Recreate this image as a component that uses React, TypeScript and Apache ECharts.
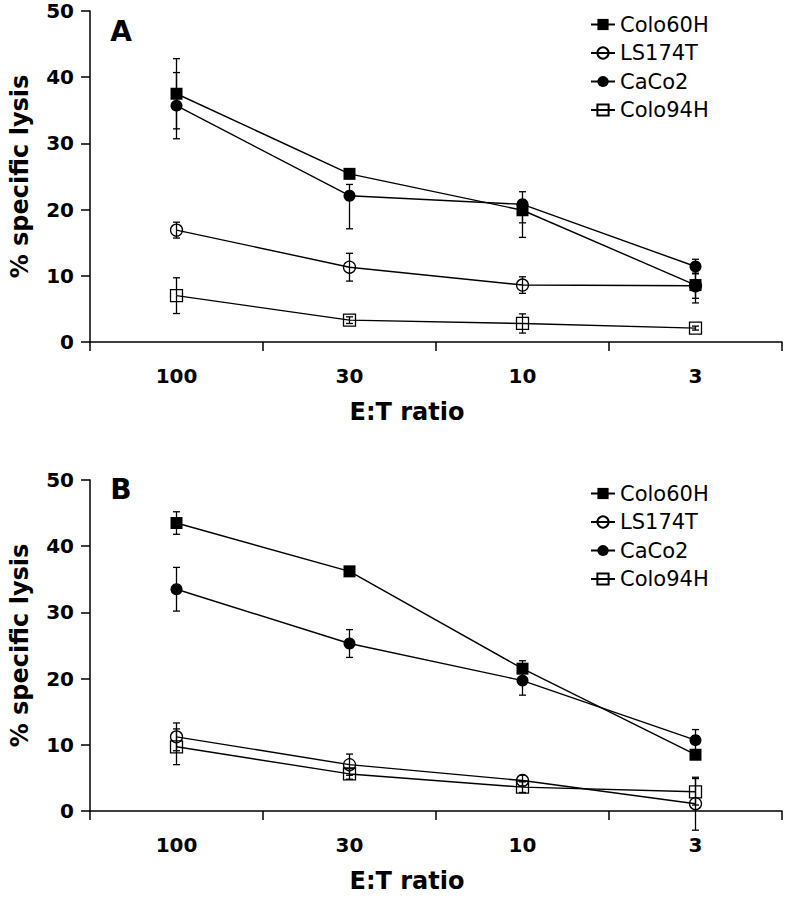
import React, { useEffect, useRef } from "react";
import * as echarts from "echarts";

// ---- data ----
const categories = ["100", "30", "10", "3"];
const seriesNames = ["Colo60H", "LS174T", "CaCo2", "Colo94H"];
const panelLabels = ["A", "B"];

// Panel A values
const aColo60H = [37.5, 25.4, 19.9, 8.6];
const aLS174T = [16.9, 11.3, 8.6, 8.5];
const aCaCo2 = [35.7, 22.1, 20.8, 11.4];
const aColo94H = [7.0, 3.3, 2.8, 2.1];
// Panel A error bars: [minus, plus]
const aColo60HErr = [[5.3, 5.3], [0, 0], [4.1, 0], [2.7, 2.7]];
const aLS174TErr = [[1.2, 1.2], [2.1, 2.1], [1.25, 1.25], [1.9, 1.9]];
const aCaCo2Err = [[5.0, 5.0], [5.0, 1.7], [2.8, 1.9], [1.1, 1.1]];
const aColo94HErr = [[2.7, 2.7], [0.5, 0.5], [1.45, 1.45], [0.3, 0.3]];

// Panel B values
const bColo60H = [43.5, 36.2, 21.5, 8.5];
const bLS174T = [11.2, 7.0, 4.6, 1.1];
const bCaCo2 = [33.5, 25.3, 19.7, 10.7];
const bColo94H = [9.7, 5.6, 3.6, 2.9];
// Panel B error bars: [minus, plus]
const bColo60HErr = [[1.7, 1.7], [0.7, 0.7], [1.2, 1.2], [0.4, 0.4]];
const bLS174TErr = [[2.1, 2.1], [1.6, 1.6], [0.8, 0.8], [4.0, 4.0]];
const bCaCo2Err = [[3.3, 3.3], [2.1, 2.1], [2.2, 2.2], [1.6, 1.6]];
const bColo94HErr = [[2.7, 2.7], [0.8, 0.8], [0.8, 0.8], [2.0, 2.0]];

const yTicks = { min: 0, max: 50, interval: 10 };

const panels = [
  {
    values: [aColo60H, aLS174T, aCaCo2, aColo94H],
    errs: [aColo60HErr, aLS174TErr, aCaCo2Err, aColo94HErr],
  },
  {
    values: [bColo60H, bLS174T, bCaCo2, bColo94H],
    errs: [bColo60HErr, bLS174TErr, bCaCo2Err, bColo94HErr],
  },
];

// ---- styles ----
const FONT = "'DejaVu Sans', 'Liberation Sans', Arial, sans-serif";
const markerStyles = [
  { symbol: "rect", filled: true },
  { symbol: "circle", filled: false },
  { symbol: "circle", filled: true },
  { symbol: "rect", filled: false },
];
const gridTops = [11, 480];
const legendTops = [9, 478];

export default function App() {
  const ref = useRef<HTMLDivElement>(null);

  useEffect(() => {
    if (!ref.current) return;
    const chart = echarts.init(ref.current, null, { renderer: "svg" });

    const grids = gridTops.map((t) => ({ left: 90, top: t, width: 692, height: 331 }));
    const axisLineStyle = { color: "#000", width: 1.5 };

    const xAxes = gridTops.map((_, i) => ({
      type: "category",
      gridIndex: i,
      data: categories,
      boundaryGap: true,
      axisLine: { show: true, lineStyle: axisLineStyle },
      axisTick: { show: true, length: 9, inside: false, lineStyle: axisLineStyle },
      axisLabel: { margin: 24, color: "#000", fontFamily: FONT, fontWeight: "bold", fontSize: 20 },
      name: "E:T ratio",
      nameLocation: "middle",
      nameGap: 58,
      nameTextStyle: {
        color: "#000",
        fontFamily: FONT,
        fontWeight: "bold",
        fontSize: 24,
        padding: [0, 58, 0, 0],
      },
      splitLine: { show: false },
    }));

    const yAxes = gridTops.map((_, i) => ({
      type: "value",
      gridIndex: i,
      min: yTicks.min,
      max: yTicks.max,
      interval: yTicks.interval,
      axisLine: { show: true, lineStyle: axisLineStyle },
      axisTick: { show: true, length: 9, inside: false, lineStyle: axisLineStyle },
      axisLabel: { margin: 16, color: "#000", fontFamily: FONT, fontWeight: "bold", fontSize: 20 },
      splitLine: { show: false },
      name: "% specific lysis",
      nameLocation: "middle",
      nameRotate: 90,
      nameGap: 58,
      nameTextStyle: { color: "#000", fontFamily: FONT, fontWeight: "bold", fontSize: 24 },
    }));

    const series: any[] = [];
    panels.forEach((panel, p) => {
      panel.values.forEach((vals, s) => {
        const m = markerStyles[s];
        series.push({
          type: "line",
          name: seriesNames[s],
          xAxisIndex: p,
          yAxisIndex: p,
          data: vals,
          symbol: m.symbol,
          symbolSize: 12,
          showAllSymbol: true,
          lineStyle: { color: "#000", width: 1.4 },
          itemStyle: {
            color: m.filled ? "#000" : "rgba(255,255,255,0)",
            borderColor: "#000",
            borderWidth: m.filled ? 0 : 1.3,
          },
          z: 3,
        });
      });
      const errData: number[][] = [];
      panel.values.forEach((vals, s) => {
        vals.forEach((v, i) => {
          const [minus, plus] = panel.errs[s][i];
          errData.push([i, v - minus, v + plus, v]);
        });
      });
      series.push({
        type: "custom",
        name: "err" + p,
        xAxisIndex: p,
        yAxisIndex: p,
        silent: true,
        z: 4,
        encode: { x: 0, y: [1, 2] },
        data: errData,
        renderItem: (params: any, api: any) => {
          const x = api.value(0);
          const lo = api.value(1);
          const hi = api.value(2);
          const v = api.value(3);
          const pLo = api.coord([x, lo]);
          const pHi = api.coord([x, hi]);
          const pV = api.coord([x, v]);
          const st = { stroke: "#000", lineWidth: 1.3 };
          const children: any[] = [];
          if (hi > v) {
            children.push({ type: "line", shape: { x1: pV[0], y1: pV[1], x2: pHi[0], y2: pHi[1] }, style: st });
            children.push({ type: "line", shape: { x1: pHi[0] - 3.5, y1: pHi[1], x2: pHi[0] + 3.5, y2: pHi[1] }, style: st });
          }
          if (lo < v) {
            children.push({ type: "line", shape: { x1: pV[0], y1: pV[1], x2: pLo[0], y2: pLo[1] }, style: st });
            children.push({ type: "line", shape: { x1: pLo[0] - 3.5, y1: pLo[1], x2: pLo[0] + 3.5, y2: pLo[1] }, style: st });
          }
          return { type: "group", children };
        },
      });
    });

    const legends = legendTops.map((t) => ({
      orient: "vertical",
      left: 585,
      top: t,
      itemWidth: 24,
      itemHeight: 14,
      itemGap: 7.5,
      data: seriesNames,
      selectedMode: false,
      textStyle: { color: "#000", fontFamily: FONT, fontSize: 21, lineHeight: 20 },
    }));

    const graphics = panelLabels.map((lab, i) => ({
      type: "text",
      x: 121,
      y: i === 0 ? 31 : 489.5,
      style: {
        text: lab,
        font: `bold 28px ${FONT}`,
        fill: "#000",
        textAlign: "center",
        textVerticalAlign: "middle",
      },
    }));

    chart.setOption({
      animation: false,
      backgroundColor: "#fff",
      grid: grids,
      xAxis: xAxes,
      yAxis: yAxes,
      legend: legends,
      series,
      graphic: graphics,
    });

    return () => chart.dispose();
  }, []);

  return (
    <div
      ref={ref}
      style={{ position: "absolute", left: 0, top: 0, width: 786, height: 898 }}
    />
  );
}
